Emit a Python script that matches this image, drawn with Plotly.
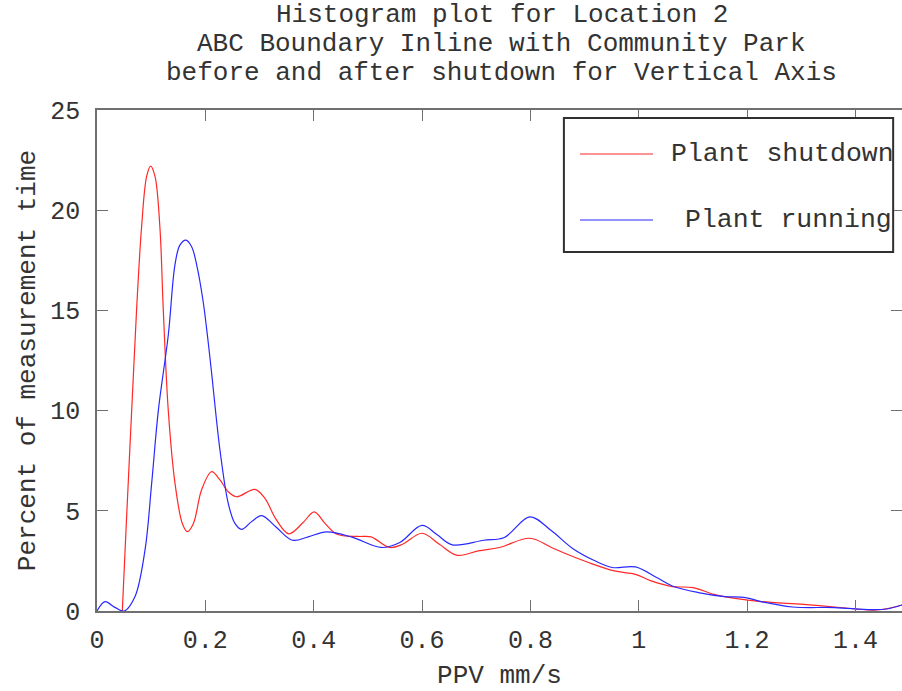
import plotly.graph_objects as go

# ---- data ----
shutdown_x = [0.0467, 0.0547, 0.064, 0.073, 0.0824, 0.0917, 0.099, 0.107, 0.116, 0.1224,
              0.1316, 0.144, 0.1575, 0.1667, 0.178, 0.193, 0.2115, 0.227, 0.2423, 0.2577,
              0.2915, 0.31, 0.33, 0.354, 0.38, 0.401, 0.42, 0.443, 0.482, 0.506,
              0.54, 0.564, 0.6, 0.632, 0.665, 0.704, 0.743, 0.799, 0.839, 0.868,
              0.907, 0.955, 0.994, 1.023, 1.062, 1.1, 1.139, 1.178, 1.226, 1.304,
              1.362, 1.439, 1.486]
shutdown_y = [0, 4.7, 10.0, 15.0, 19.2, 21.7, 22.2, 21.7, 19.2, 15.0,
              10.0, 6.37, 4.37, 3.96, 4.37, 6.04, 6.95, 6.54, 5.95, 5.7,
              6.07, 5.62, 4.6, 3.85, 4.4, 4.95, 4.4, 3.83, 3.72, 3.7,
              3.17, 3.33, 3.88, 3.33, 2.78, 3.0, 3.17, 3.63, 3.17, 2.83,
              2.42, 2.0, 1.83, 1.5, 1.22, 1.17, 0.83, 0.63, 0.47, 0.33,
              0.2, 0.05, 0.3]

running_x = [0, 0.0148, 0.033, 0.0504, 0.070, 0.0886, 0.1009, 0.1132, 0.1316, 0.1439,
             0.153, 0.1642, 0.1747, 0.184, 0.196, 0.2055, 0.2115, 0.227, 0.2423, 0.2546,
             0.267, 0.2854, 0.304, 0.33, 0.361, 0.39, 0.424, 0.472, 0.525, 0.559,
             0.6, 0.628, 0.656, 0.714, 0.752, 0.799, 0.839, 0.878, 0.917, 0.951,
             0.994, 1.033, 1.062, 1.11, 1.159, 1.197, 1.226, 1.284, 1.362, 1.429,
             1.458, 1.486]
running_y = [0, 0.47, 0.18, 0, 0.71, 3.04, 6.37, 10.0, 13.77, 17.27,
             18.26, 18.51, 18.18, 17.27, 15.43, 13.36, 11.9, 8.03, 5.37, 4.37,
             4.07, 4.46, 4.76, 4.2, 3.53, 3.7, 3.95, 3.67, 3.17, 3.42,
             4.27, 3.8, 3.3, 3.53, 3.67, 4.7, 4.0, 3.12, 2.53, 2.17,
             2.2, 1.67, 1.25, 0.92, 0.72, 0.67, 0.47, 0.2, 0.17, 0.07,
             0.1, 0.3]

series_names = ["Plant shutdown", "Plant running"]
title_lines = ["Histogram plot for Location 2",
               "ABC Boundary Inline with Community Park",
               "before and after shutdown for Vertical Axis"]
x_ticks = [0, 0.2, 0.4, 0.6, 0.8, 1, 1.2, 1.4]
x_tick_text = ["0", "0.2", "0.4", "0.6", "0.8", "1", "1.2", "1.4"]
y_ticks = [0, 5, 10, 15, 20, 25]

# ---- style ----
FONT = "Liberation Mono, Courier New, monospace"
TXT = "#333333"
RED = "rgb(255,40,40)"
BLUE = "rgb(40,40,255)"
AXC = "#707070"

fig = go.Figure()
fig.add_trace(go.Scatter(x=shutdown_x, y=shutdown_y, mode="lines", name=series_names[0],
                         line=dict(color=RED, width=1.2, shape="spline", smoothing=1.0),
                         showlegend=False))
fig.add_trace(go.Scatter(x=running_x, y=running_y, mode="lines", name=series_names[1],
                         line=dict(color=BLUE, width=1.2, shape="spline", smoothing=1.0),
                         showlegend=False))

axis_common = dict(showline=True, linecolor=AXC, linewidth=1.5, mirror="ticks",
                   ticks="inside", ticklen=11, tickwidth=1.3, tickcolor=AXC,
                   showgrid=False, zeroline=False, automargin=False,
                   tickfont=dict(family=FONT, size=25, color=TXT))

fig.update_xaxes(range=[0, 1.486], tickvals=x_ticks, ticktext=x_tick_text,
                 ticklabelstandoff=5,
                 title=dict(text="PPV mm/s", font=dict(family=FONT, size=26, color=TXT), standoff=20),
                 **axis_common)
fig.update_yaxes(range=[0, 25], tickvals=y_ticks, ticklabelstandoff=10,
                 title=dict(text="Percent of measurement time",
                            font=dict(family=FONT, size=26, color=TXT), standoff=7),
                 **axis_common)

# title as three lines (tight line spacing like the reference)
title_y = [1.1896, 1.1317, 1.0738]
for t, yy in zip(title_lines, title_y):
    fig.add_annotation(text=t, xref="paper", yref="paper", x=0.503, y=yy,
                       xanchor="center", yanchor="middle", showarrow=False,
                       font=dict(family=FONT, size=26, color=TXT))

# legend box
fig.add_shape(type="rect", xref="paper", yref="paper", x0=0.580, x1=0.989, y0=0.7166, y1=0.984,
              line=dict(color="#303030", width=2), fillcolor="white", layer="above")
leg_y = [0.9122, 0.7804]
leg_text_x = [0.7106, 0.7280]
for name, col, yy, tx in zip(series_names, [RED, BLUE], leg_y, leg_text_x):
    fig.add_shape(type="line", xref="paper", yref="paper", x0=0.600, x1=0.6907, y0=yy, y1=yy,
                  line=dict(color=col, width=1.2), layer="above")
    fig.add_annotation(text=name, xref="paper", yref="paper", x=tx, y=yy,
                       xanchor="left", yanchor="middle", showarrow=False,
                       font=dict(family=FONT, size=26.5, color=TXT))

fig.update_layout(width=902, height=691, margin=dict(l=97, r=0, t=110, b=80),
                  paper_bgcolor="white", plot_bgcolor="white", showlegend=False)

fig.write_html("out.html")
